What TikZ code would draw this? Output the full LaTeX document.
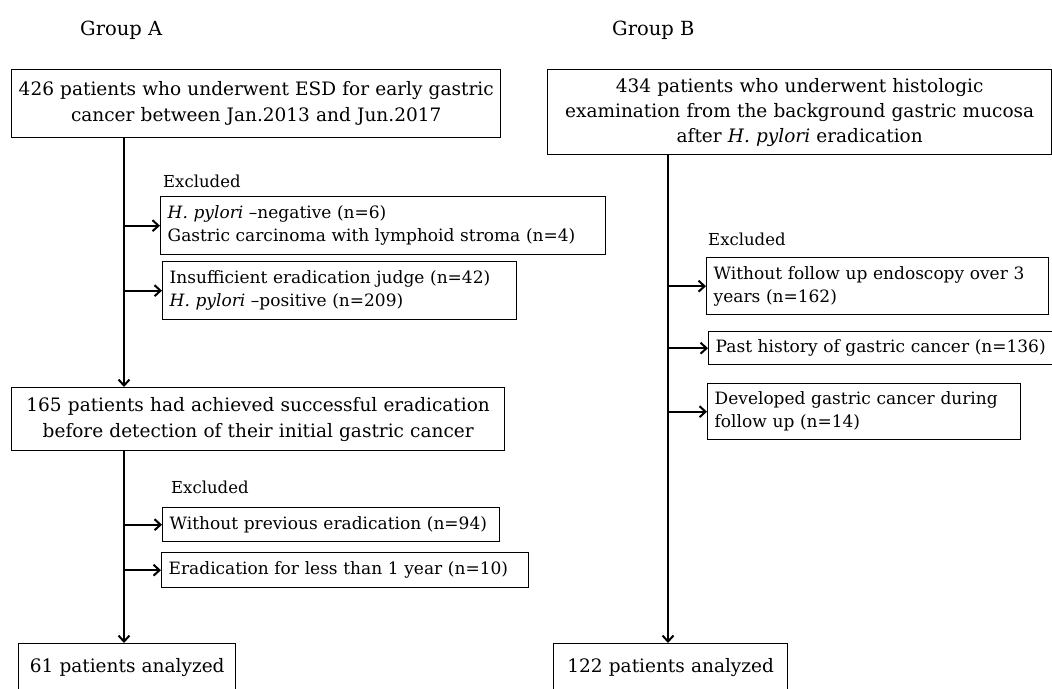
\documentclass[tikz,border=0pt]{standalone}
\usepackage{fontspec}
\setmainfont{DejaVu Serif}
\usetikzlibrary{arrows.meta}

\begin{document}
\begin{tikzpicture}[x=1pt,y=-1pt,
		mainbox/.style={draw,line width=1.4pt,rectangle,anchor=north west,inner xsep=5pt,
			align=center,font=\fontsize{18.5}{26}\selectfont},
		exbox/.style={draw,line width=1.4pt,rectangle,anchor=north west,inner xsep=7pt,
			align=left,font=\fontsize{17}{23}\selectfont},
		exlabel/.style={anchor=west,inner sep=0pt,font=\fontsize{16.5}{20}\selectfont},
		grplabel/.style={anchor=west,inner sep=0pt,font=\fontsize{19.5}{22}\selectfont},
		arr/.style={-{Straight Barb[length=6pt,width=11pt]},line width=2pt}]
		\useasboundingbox (0,0) rectangle (1052,688);

		% Group A
		\node[grplabel](ga) at (80,30){Group A};
		\node[mainbox,minimum width=489pt,minimum height=68pt,text width=479pt](a1) at (11,69)
			{426 patients who underwent ESD for early gastric\\cancer between Jan.2013 and Jun.2017};
		\node[exlabel](exa) at (163,181){Excluded};
		\node[exbox,minimum width=445pt,minimum height=58pt,text width=431pt](a2) at (160,196)
			{\textit{H. pylori} --negative (n=6)\\Gastric carcinoma with lymphoid stroma (n=4)};
		\node[exbox,minimum width=354pt,minimum height=58pt,text width=340pt](a3) at (162,261)
			{Insufficient eradication judge (n=42)\\\textit{H. pylori} --positive (n=209)};
		\node[mainbox,minimum width=493pt,minimum height=63pt,text width=483pt](a4) at (11,387)
			{165 patients had achieved successful eradication\\before detection of their initial gastric cancer};
		\node[exlabel](exb) at (171,487){Excluded};
		\node[exbox,minimum width=337pt,minimum height=34pt,text width=323pt](a5) at (162,507)
			{Without previous eradication (n=94)};
		\node[exbox,minimum width=367pt,minimum height=35pt,text width=353pt](a6) at (161,552)
			{Eradication for less than 1 year (n=10)};
		\node[mainbox,minimum width=217pt,minimum height=48pt,text width=207pt](a7) at (18,643)
			{61 patients analyzed};
		\coordinate (ta) at (124,0);

		\draw[arr] (a1.south -| ta) -- (a4.north -| ta);
		\draw[arr] (a2.west -| ta) -- (a2.west);
		\draw[arr] (a3.west -| ta) -- (a3.west);
		\draw[arr] (a4.south -| ta) -- (a7.north -| ta);
		\draw[arr] (a5.west -| ta) -- (a5.west);
		\draw[arr] (a6.west -| ta) -- (a6.west);

		% Group B
		\node[grplabel](gb) at (612,30){Group B};
		\node[mainbox,minimum width=504pt,minimum height=85pt,text width=494pt,
			font=\fontsize{18.5}{25}\selectfont](b1) at (547,69)
			{434 patients who underwent histologic\\examination from the background gastric mucosa\\after \textit{H. pylori} eradication};
		\node[exlabel](exc) at (708,239){Excluded};
		\node[exbox,minimum width=342pt,minimum height=57pt,text width=328pt](b2) at (706,257)
			{Without follow up endoscopy over 3\\years (n=162)};
		\node[exbox,minimum width=348pt,minimum height=33pt,text width=334pt](b3) at (708,331)
			{Past history of gastric cancer (n=136)};
		\node[exbox,minimum width=313pt,minimum height=56pt,text width=299pt](b4) at (707,383)
			{Developed gastric cancer during\\follow up (n=14)};
		\node[mainbox,minimum width=234pt,minimum height=48pt,text width=224pt](b5) at (553,643)
			{122 patients analyzed};
		\coordinate (tb) at (668,0);

		\draw[arr] (b1.south -| tb) -- (b5.north -| tb);
		\draw[arr] (b2.west -| tb) -- (b2.west);
		\draw[arr] (b3.west -| tb) -- (b3.west);
		\draw[arr] (b4.west -| tb) -- (b4.west);
	\end{tikzpicture}
\end{document}
